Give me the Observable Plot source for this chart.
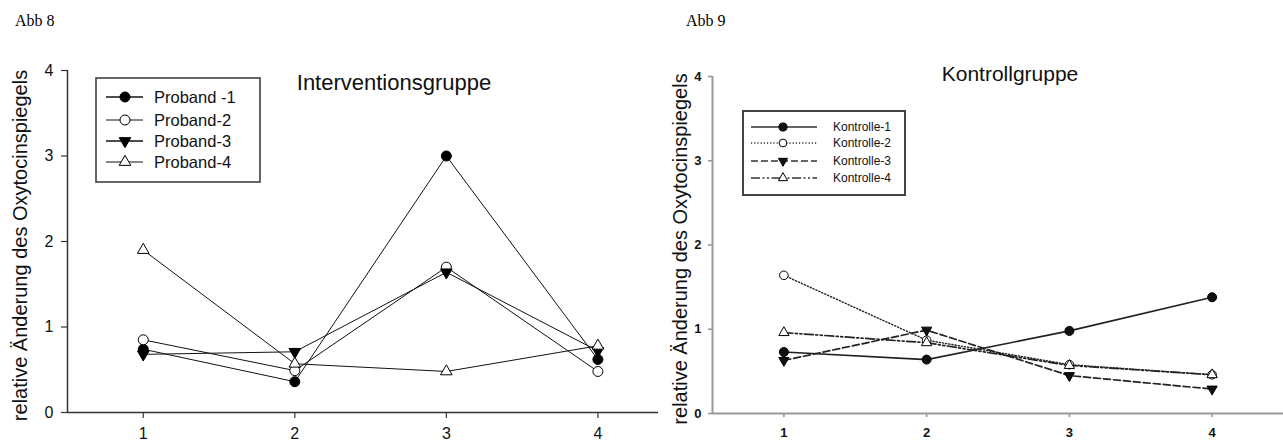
<!DOCTYPE html>
<html><head><meta charset="utf-8">
<script src="https://cdn.jsdelivr.net/npm/d3@7"></script>
<script src="https://cdn.jsdelivr.net/npm/@observablehq/plot@0.6"></script>
<style>
body{margin:0;background:#fff;}
#wrap{position:relative;width:1283px;height:443px;overflow:hidden;background:#fff;}
.panel{position:absolute;top:0;}
.abb{position:absolute;font-family:"Liberation Serif","Times New Roman",serif;font-size:16px;color:#000;}
.legend{position:absolute;}
</style></head><body><div id="wrap"></div>
<script>
// ---- data ----
const zeitpunkte = [1, 2, 3, 4];
const xTickLabels = ["1", "2", "3", "4"];
const yTicks = [0, 1, 2, 3, 4];
const yTickLabels = ["0", "1", "2", "3", "4"];
const yLabel = "relative Änderung des Oxytocinspiegels";
const figurenNamen = ["Abb 8", "Abb 9"];
const panelTitel = ["Interventionsgruppe", "Kontrollgruppe"];

const probandNamen = ["Proband -1", "Proband-2", "Proband-3", "Proband-4"];
const proband1 = [0.74, 0.36, 3.00, 0.62];
const proband2 = [0.85, 0.49, 1.70, 0.48];
const proband3 = [0.68, 0.71, 1.64, 0.72];
const proband4 = [1.90, 0.57, 0.48, 0.78];

const kontrollNamen = ["Kontrolle-1", "Kontrolle-2", "Kontrolle-3", "Kontrolle-4"];
const kontrolle1 = [0.73, 0.64, 0.98, 1.38];
const kontrolle2 = [1.64, 0.87, 0.58, 0.46];
const kontrolle3 = [0.63, 0.99, 0.45, 0.29];
const kontrolle4 = [0.96, 0.84, 0.57, 0.46];

// ---- styles ----
const sqrt3 = Math.sqrt(3);
const triangleDown = {
  draw(context, size) {
    const y = -Math.sqrt(size / (sqrt3 * 3));
    context.moveTo(0, -y * 2);
    context.lineTo(-sqrt3 * y, y);
    context.lineTo(sqrt3 * y, y);
    context.closePath();
  }
};
const leftStyle = [
  {symbol: "circle", fill: "#000", r: 5, dash: null, lw: 1, legLw: 1.6},
  {symbol: "circle", fill: "#fff", r: 5, dash: null, lw: 1, legLw: 1},
  {symbol: triangleDown, fill: "#000", r: 4.3, dash: null, lw: 1, legLw: 1.6},
  {symbol: "triangle", fill: "#fff", r: 4.3, dash: null, lw: 1, legLw: 1}
];
const rightStyle = [
  {symbol: "circle", fill: "#111", r: 4.5, dash: null, lw: 1.7},
  {symbol: "circle", fill: "#fff", r: 4.3, dash: "1.2,2", lw: 1.4},
  {symbol: triangleDown, fill: "#111", r: 3.8, dash: "7,3", lw: 1.7},
  {symbol: "triangle", fill: "#fff", r: 3.8, dash: "9,2.5,2,2.5,2,2.5", lw: 1.7}
];

function rows(values) { return zeitpunkte.map((t, j) => ({t, v: values[j]})); }

function panel(opts) {
  const {series, styles, width, marginLeft, marginRight, marginTop, marginBottom, xDomain,
         axisColor, axisWidth, tickFont, tickWeight, tickSize, tickPadX, tickPadY,
         title, titleDx, titleDy, titleSize, labelDx, labelDy, labelSize, lineColor} = opts;
  const marks = [
    Plot.ruleY([0], {stroke: axisColor, strokeWidth: axisWidth}),
    Plot.ruleX([xDomain[0]], {stroke: axisColor, strokeWidth: axisWidth}),
    Plot.axisX({ticks: zeitpunkte, tickFormat: d => xTickLabels[zeitpunkte.indexOf(d)], tickSize,
      tickPadding: tickPadX, stroke: axisColor, strokeWidth: axisWidth * 0.8, fill: "#111", label: null,
      fontSize: tickFont, fontWeight: tickWeight}),
    Plot.axisY({ticks: yTicks, tickFormat: d => yTickLabels[yTicks.indexOf(d)], tickSize, tickPadding: tickPadY,
      stroke: axisColor, strokeWidth: axisWidth * 0.8,
      fill: "#111", label: null, fontSize: tickFont, fontWeight: tickWeight})
  ];
  series.forEach((vals, i) => {
    const s = styles[i];
    marks.push(Plot.line(rows(vals), {x: "t", y: "v", stroke: lineColor, strokeWidth: s.lw,
      strokeDasharray: s.dash || undefined}));
  });
  series.forEach((vals, i) => {
    const s = styles[i];
    marks.push(Plot.dot(rows(vals), {x: "t", y: "v", symbol: s.symbol, r: s.r, fill: s.fill,
      stroke: "#000", strokeWidth: 1}));
  });
  marks.push(Plot.text([title], {frameAnchor: "top", dx: titleDx, dy: titleDy, fontSize: titleSize,
    fill: "#111", lineAnchor: "middle"}));
  marks.push(Plot.text([yLabel], {frameAnchor: "left", textAnchor: "middle", rotate: -90, dx: labelDx, dy: labelDy,
    fontSize: labelSize, fill: "#111", lineAnchor: "middle"}));
  return Plot.plot({
    width, height: 443, marginLeft, marginRight, marginTop, marginBottom,
    x: {domain: xDomain},
    y: {domain: [0, 4]},
    style: {fontFamily: "'Liberation Sans', Arial, sans-serif", fontSize: tickFont + "px",
      background: "transparent", overflow: "visible"},
    marks
  });
}

const wrap = document.getElementById("wrap");

const left = panel({
  series: [proband1, proband2, proband3, proband4], styles: leftStyle,
  width: 660, marginLeft: 67, marginRight: 2, marginTop: 70, marginBottom: 31, xDomain: [0.5, 4.4],
  axisColor: "#333", axisWidth: 1.5, tickFont: 16, tickWeight: "normal", tickSize: 6, tickPadX: 9, tickPadY: 8,
  title: panelTitel[0], titleDx: 31, titleDy: 12, titleSize: 22, labelDx: -47, labelDy: 4, labelSize: 20,
  lineColor: "#111"
});
left.classList.add("panel"); left.style.left = "0px";
wrap.appendChild(left);

const right = panel({
  series: [kontrolle1, kontrolle2, kontrolle3, kontrolle4], styles: rightStyle,
  width: 623, marginLeft: 52, marginRight: 0, marginTop: 76, marginBottom: 30, xDomain: [0.5, 4.5],
  axisColor: "#999", axisWidth: 2, tickFont: 13, tickWeight: "bold", tickSize: 4, tickPadX: 10, tickPadY: 7,
  title: panelTitel[1], titleDx: 12, titleDy: -2, titleSize: 21, labelDx: -32, labelDy: 4, labelSize: 20,
  lineColor: "#222"
});
right.classList.add("panel"); right.style.left = "660px";
wrap.appendChild(right);

// figure labels
[[15, 12], [686, 12]].forEach(([x, y], i) => {
  const d = document.createElement("div");
  d.className = "abb"; d.textContent = figurenNamen[i];
  d.style.left = x + "px"; d.style.top = y + "px";
  wrap.appendChild(d);
});

// legends (drawn outside the plot, as boxes with line+symbol samples)
function legend(cfg) {
  const {names, styles, x, y, w, h, rowY, lineX0, lineX1, markX, textX, fontSize, boxStroke, boxWidth,
         markScale, lineColor} = cfg;
  const svg = d3.create("svg").attr("class", "legend").attr("width", w + 4).attr("height", h + 4)
    .style("left", (x - 2) + "px").style("top", (y - 2) + "px");
  svg.append("rect").attr("x", 2).attr("y", 2).attr("width", w).attr("height", h)
    .attr("fill", "#fff").attr("stroke", boxStroke).attr("stroke-width", boxWidth);
  names.forEach((n, i) => {
    const s = styles[i];
    const yy = rowY[i] + 2;
    svg.append("line").attr("x1", lineX0 + 2).attr("x2", lineX1 + 2).attr("y1", yy).attr("y2", yy)
      .attr("stroke", lineColor).attr("stroke-width", s.legLw || s.lw)
      .attr("stroke-dasharray", s.dash || null);
    const type = s.symbol === "circle" ? d3.symbolCircle : s.symbol === "triangle" ? d3.symbolTriangle : s.symbol;
    const rr = s.r * markScale;
    svg.append("path").attr("d", d3.symbol(type, Math.PI * rr * rr)())
      .attr("transform", `translate(${markX + 2},${yy})`)
      .attr("fill", s.fill).attr("stroke", "#000").attr("stroke-width", 1);
    svg.append("text").attr("x", textX + 2).attr("y", yy).attr("dy", "0.35em")
      .attr("font-family", "'Liberation Sans', Arial, sans-serif").attr("font-size", fontSize)
      .attr("fill", "#111").text(n);
  });
  wrap.appendChild(svg.node());
}

legend({names: probandNamen, styles: leftStyle, x: 96, y: 78, w: 164, h: 104,
  rowY: [19, 42, 63, 84], lineX0: 10, lineX1: 47, markX: 29, textX: 58, fontSize: 16.5,
  boxStroke: "#333", boxWidth: 1.5, markScale: 1, lineColor: "#111"});
legend({names: kontrollNamen, styles: rightStyle, x: 743, y: 111, w: 162, h: 84,
  rowY: [16, 32, 50, 67], lineX0: 8, lineX1: 74, markX: 40, textX: 90, fontSize: 12,
  boxStroke: "#444", boxWidth: 2, markScale: 0.9, lineColor: "#333"});
</script>
</body></html>
